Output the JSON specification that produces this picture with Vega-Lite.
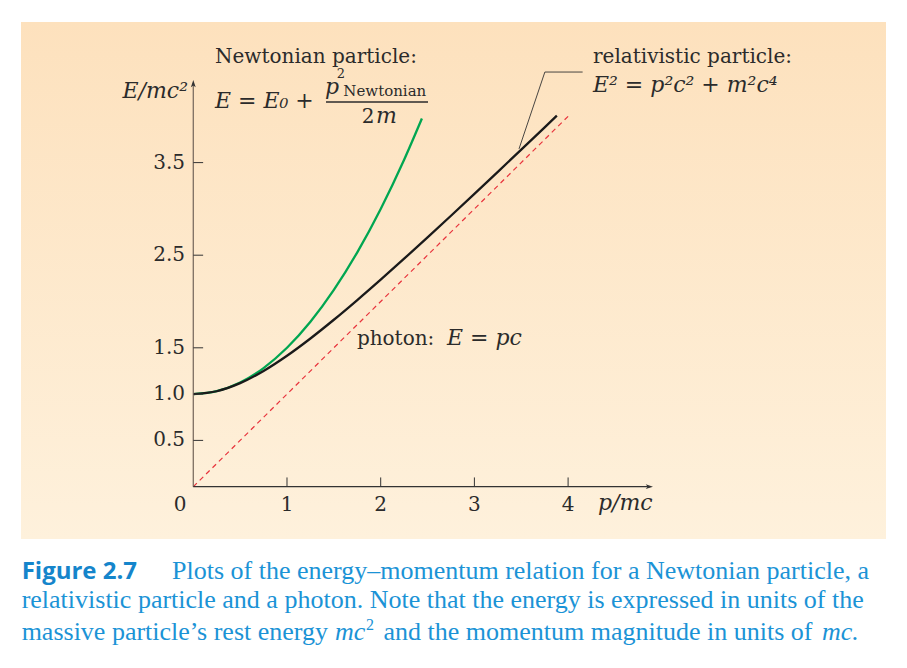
{
  "$schema": "https://vega.github.io/schema/vega-lite/v6.json",
  "width": 865,
  "height": 517,
  "autosize": "none",
  "padding": {"left": 21, "top": 22, "right": 21, "bottom": 129},
  "background": "#ffffff",
  "config": {
    "view": {
      "stroke": null,
      "fill": {
        "gradient": "linear", "x1": 0, "y1": 0, "x2": 0, "y2": 1,
        "stops": [{"offset": 0, "color": "#FDE1BD"}, {"offset": 1, "color": "#FEF1DC"}]
      }
    },
    "axis": {"disable": true},
    "text": {"font": "DejaVu Serif", "fontSize": 20, "color": "#2b2b2b"}
  },
  "encoding": {
    "x": {"type": "quantitative", "scale": {"domain": [-1.8388, 7.3927], "nice": false, "zero": false}},
    "y": {"type": "quantitative", "scale": {"domain": [-0.5648, 5.0184], "nice": false, "zero": false}}
  },
  "layer": [
    {
      "description": "photon: E = pc",
      "data": {"values": [{"p": 0, "E": 0}, {"p": 4.0, "E": 4.0}]},
      "mark": {"type": "line", "color": "#E8333C", "strokeWidth": 1.2, "strokeDash": [5, 4]},
      "encoding": {"x": {"field": "p"}, "y": {"field": "E"}}
    },
    {
      "description": "Newtonian particle: E = 1 + p^2/2",
      "data": {"values": [
        {"p": 0, "E": 1}, {"p": 0.25, "E": 1.03125}, {"p": 0.5, "E": 1.125}, {"p": 0.75, "E": 1.28125},
        {"p": 1.0, "E": 1.5}, {"p": 1.25, "E": 1.78125}, {"p": 1.5, "E": 2.125}, {"p": 1.75, "E": 2.53125},
        {"p": 2.0, "E": 3.0}, {"p": 2.25, "E": 3.53125}, {"p": 2.44, "E": 3.9768}
      ]},
      "mark": {"type": "line", "color": "#00A651", "strokeWidth": 2.3, "interpolate": "monotone"},
      "encoding": {"x": {"field": "p"}, "y": {"field": "E"}}
    },
    {
      "description": "relativistic particle: E = sqrt(1 + p^2)",
      "data": {"values": [
        {"p": 0, "E": 1}, {"p": 0.25, "E": 1.0308}, {"p": 0.5, "E": 1.1180}, {"p": 0.75, "E": 1.25},
        {"p": 1.0, "E": 1.4142}, {"p": 1.25, "E": 1.6008}, {"p": 1.5, "E": 1.8028}, {"p": 1.75, "E": 2.0156},
        {"p": 2.0, "E": 2.2361}, {"p": 2.25, "E": 2.4622}, {"p": 2.5, "E": 2.6926}, {"p": 2.75, "E": 2.9262},
        {"p": 3.0, "E": 3.1623}, {"p": 3.25, "E": 3.4004}, {"p": 3.5, "E": 3.6401}, {"p": 3.75, "E": 3.8810},
        {"p": 3.88, "E": 4.0066}
      ]},
      "mark": {"type": "line", "color": "#1a1a1a", "strokeWidth": 2.3, "interpolate": "monotone"},
      "encoding": {"x": {"field": "p"}, "y": {"field": "E"}}
    },
    {
      "description": "vertical axis line",
      "data": {"values": [{}]},
      "mark": {"type": "rule", "color": "#7d6f62", "strokeWidth": 1.3},
      "encoding": {"x": {"datum": 0}, "y": {"datum": 0}, "y2": {"datum": 4.36}}
    },
    {
      "description": "horizontal axis line",
      "data": {"values": [{}]},
      "mark": {"type": "rule", "color": "#333333", "strokeWidth": 1.3},
      "encoding": {"x": {"datum": 0}, "x2": {"datum": 4.87}, "y": {"datum": 0}}
    },
    {
      "description": "arrowhead of the vertical axis",
      "data": {"values": [{}]},
      "mark": {"type": "point", "filled": true, "opacity": 1, "color": "#333333", "size": 64,
               "shape": "M0,-1L0.6,0.8L0,0.35L-0.6,0.8Z"},
      "encoding": {"x": {"datum": 0}, "y": {"datum": 4.349}}
    },
    {
      "description": "arrowhead of the horizontal axis",
      "data": {"values": [{}]},
      "mark": {"type": "point", "filled": true, "opacity": 1, "color": "#333333", "size": 64,
               "shape": "M1,0L-0.8,0.6L-0.35,0L-0.8,-0.6Z"},
      "encoding": {"x": {"datum": 4.863}, "y": {"datum": 0}}
    },
    {
      "description": "vertical axis ticks and labels",
      "data": {"values": [
        {"v": 0.5, "t": "0.5"}, {"v": 1.0, "t": "1.0"}, {"v": 1.5, "t": "1.5"}, {"v": 2.5, "t": "2.5"}, {"v": 3.5, "t": "3.5"}
      ]},
      "layer": [
        {
          "mark": {"type": "rule", "color": "#333333", "strokeWidth": 1},
          "encoding": {"y": {"field": "v"}, "x": {"datum": 0}, "x2": {"datum": 0.105}}
        },
        {
          "mark": {"type": "text", "align": "right", "baseline": "middle"},
          "encoding": {"y": {"field": "v"}, "x": {"datum": -0.0886}, "text": {"field": "t"}}
        }
      ]
    },
    {
      "description": "horizontal axis ticks and labels",
      "data": {"values": [
        {"v": 1, "t": "1"}, {"v": 2, "t": "2"}, {"v": 3, "t": "3"}, {"v": 4, "t": "4"}
      ]},
      "layer": [
        {
          "mark": {"type": "rule", "color": "#333333", "strokeWidth": 1},
          "encoding": {"x": {"field": "v"}, "y": {"datum": 0}, "y2": {"datum": 0.1}}
        },
        {
          "mark": {"type": "text", "align": "center", "baseline": "alphabetic"},
          "encoding": {"x": {"field": "v"}, "y": {"datum": -0.2624}, "text": {"field": "t"}}
        }
      ]
    },
    {
      "data": {"values": [{"x": -0.142, "y": -0.2624, "t": "0"}]},
      "mark": {"type": "text", "align": "center", "baseline": "alphabetic"},
      "encoding": {"x": {"field": "x"}, "y": {"field": "y"}, "text": {"field": "t"}}
    },
    {
      "description": "leader from the relativistic label to its curve",
      "data": {"values": [{"x": 3.476, "y": 3.648, "o": 0}, {"x": 3.752, "y": 4.478, "o": 1}, {"x": 4.155, "y": 4.478, "o": 2}]},
      "mark": {"type": "line", "color": "#333333", "strokeWidth": 0.9},
      "encoding": {"x": {"field": "x"}, "y": {"field": "y"}, "order": {"field": "o"}}
    },
    {
      "description": "fraction bar of p^2/2m",
      "data": {"values": [{}]},
      "mark": {"type": "rule", "color": "#2b2b2b", "strokeWidth": 1.3},
      "encoding": {"x": {"datum": 1.4162}, "x2": {"datum": 2.5048}, "y": {"datum": 4.1544}}
    },
    {
      "description": "upright annotation text",
      "data": {"values": [
        {"x": 0.2316, "y": 4.5756, "t": "Newtonian particle:"},
        {"x": 4.2657, "y": 4.5756, "t": "relativistic particle:"},
        {"x": 1.7460, "y": 1.5302, "t": "photon:"},
        {"x": 1.7970, "y": 3.9280, "t": "2"}
      ]},
      "mark": {"type": "text", "align": "left", "baseline": "alphabetic"},
      "encoding": {"x": {"field": "x"}, "y": {"field": "y"}, "text": {"field": "t"}}
    },
    {
      "description": "subscript of the numerator",
      "data": {"values": [{"x": 1.6009, "y": 4.2190, "t": "Newtonian"}]},
      "mark": {"type": "text", "align": "left", "baseline": "alphabetic", "fontSize": 15},
      "encoding": {"x": {"field": "x"}, "y": {"field": "y"}, "text": {"field": "t"}}
    },
    {
      "description": "superscript of the numerator",
      "data": {"values": [{"x": 1.5300, "y": 4.4190, "t": "2"}]},
      "mark": {"type": "text", "align": "left", "baseline": "alphabetic", "fontSize": 13},
      "encoding": {"x": {"field": "x"}, "y": {"field": "y"}, "text": {"field": "t"}}
    },
    {
      "description": "italic math text",
      "data": {"values": [
        {"x": 0.2316, "y": 4.0896, "t": "E = E₀ +"},
        {"x": 1.4055, "y": 4.2410, "t": "p"},
        {"x": 1.9500, "y": 3.9280, "t": "m"},
        {"x": 4.2657, "y": 4.2624, "t": "E² = p²c² + m²c⁴"},
        {"x": 2.7080, "y": 1.5302, "t": "E = pc"},
        {"x": 4.3191, "y": -0.2516, "t": "p/mc"}
      ]},
      "mark": {"type": "text", "align": "left", "baseline": "alphabetic", "fontStyle": "italic", "fontSize": 22},
      "encoding": {"x": {"field": "x"}, "y": {"field": "y"}, "text": {"field": "t"}}
    },
    {
      "data": {"values": [{"x": -0.0566, "y": 4.1976, "t": "E/mc²"}]},
      "mark": {"type": "text", "align": "right", "baseline": "alphabetic", "fontStyle": "italic", "fontSize": 22},
      "encoding": {"x": {"field": "x"}, "y": {"field": "y"}, "text": {"field": "t"}}
    },
    {
      "description": "caption label",
      "data": {"values": [{"x": -1.8320, "y": -0.9968, "t": "Figure 2.7"}]},
      "mark": {"type": "text", "align": "left", "baseline": "alphabetic", "font": "Open Sans", "fontWeight": "bold", "fontSize": 24, "color": "#1585CB"},
      "encoding": {"x": {"field": "x"}, "y": {"field": "y"}, "text": {"field": "t"}}
    },
    {
      "description": "caption text",
      "data": {"values": [
        {"x": -0.2273, "y": -0.9968, "t": "Plots of the energy–momentum relation for a Newtonian particle, a"},
        {"x": -1.8320, "y": -1.3100, "t": "relativistic particle and a photon. Note that the energy is expressed in units of the"},
        {"x": -1.8320, "y": -1.6555, "t": "massive particle’s rest energy"},
        {"x": 2.0300, "y": -1.6555, "t": "and the momentum magnitude in units of"}
      ]},
      "mark": {"type": "text", "align": "left", "baseline": "alphabetic", "font": "Liberation Serif", "fontSize": 26, "color": "#1B93D6"},
      "encoding": {"x": {"field": "x"}, "y": {"field": "y"}, "text": {"field": "t"}}
    },
    {
      "data": {"values": [
        {"x": 1.5120, "y": -1.6555, "t": "mc"},
        {"x": 6.7090, "y": -1.6555, "t": "mc."}
      ]},
      "mark": {"type": "text", "align": "left", "baseline": "alphabetic", "font": "Liberation Serif", "fontStyle": "italic", "fontSize": 26, "color": "#1B93D6"},
      "encoding": {"x": {"field": "x"}, "y": {"field": "y"}, "text": {"field": "t"}}
    },
    {
      "data": {"values": [{"x": 1.8430, "y": -1.5475, "t": "2"}]},
      "mark": {"type": "text", "align": "left", "baseline": "alphabetic", "font": "Liberation Serif", "fontSize": 16, "color": "#1B93D6"},
      "encoding": {"x": {"field": "x"}, "y": {"field": "y"}, "text": {"field": "t"}}
    }
  ]
}
